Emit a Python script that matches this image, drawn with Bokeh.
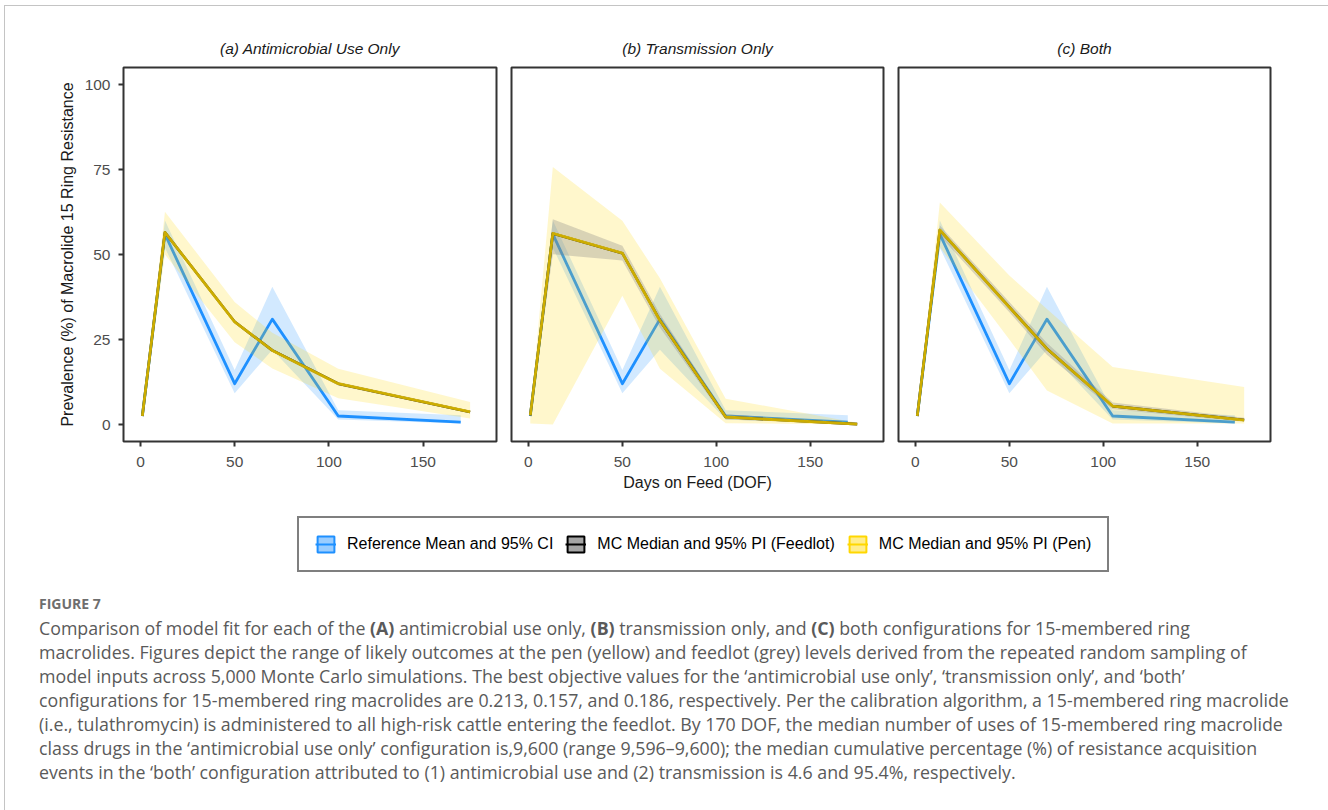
from bokeh.plotting import figure
from bokeh.models import (Range1d, FixedTicker, Legend, LegendItem, Div)
from bokeh.layouts import row, column
from bokeh.embed import file_html
from bokeh.resources import INLINE

# ---------------- data ----------------
DOF_REF = [1, 13, 50, 70, 105, 170]
REF_MEAN = [2.5, 56.0, 12.0, 31.0, 2.5, 0.7]
REF_LO = [2.0, 52.0, 9.2, 22.0, 1.5, 0.3]
REF_HI = [3.0, 60.0, 16.0, 40.5, 4.2, 2.7]

DOF_MC = [1, 13, 50, 70, 105, 175]

# (a) Antimicrobial use only
PEN_MED_A = [2.5, 56.5, 30.2, 21.8, 12.0, 3.7]
PEN_LO_A = [2.0, 50.0, 24.2, 16.5, 7.7, 1.8]
PEN_HI_A = [3.0, 62.6, 36.0, 27.0, 16.4, 6.6]
FL_MED_A = [2.5, 56.5, 30.2, 21.8, 12.0, 3.7]
FL_LO_A = [2.3, 56.0, 29.7, 21.3, 11.5, 3.3]
FL_HI_A = [2.7, 57.0, 30.7, 22.3, 12.5, 4.1]

# (b) Transmission only
PEN_MED_B = [2.7, 56.2, 50.4, 30.6, 2.2, 0.1]
PEN_LO_B = [0.3, 0.0, 37.9, 16.4, 0.4, 0.0]
PEN_HI_B = [3.0, 75.7, 59.9, 43.0, 7.6, 0.5]
FL_MED_B = [2.7, 56.2, 50.4, 30.6, 2.2, 0.1]
FL_LO_B = [2.2, 50.1, 48.2, 28.5, 1.5, 0.0]
FL_HI_B = [3.0, 60.4, 52.6, 32.5, 3.0, 0.5]

# (c) Both
PEN_MED_C = [2.5, 57.2, 34.5, 22.3, 5.4, 1.3]
PEN_LO_C = [2.0, 52.1, 25.0, 10.0, 0.3, 0.3]
PEN_HI_C = [3.0, 65.3, 43.8, 34.0, 16.9, 11.0]
FL_MED_C = [2.5, 57.2, 34.5, 22.3, 5.4, 1.3]
FL_LO_C = [2.2, 55.5, 33.0, 20.5, 4.5, 0.8]
FL_HI_C = [2.8, 58.5, 36.0, 24.0, 6.5, 2.0]

PANEL_TITLES = ["(a) Antimicrobial Use Only", "(b) Transmission Only", "(c) Both"]
Y_TICKS = [0, 25, 50, 75, 100]
X_TICKS = [0, 50, 100, 150]
Y_LABEL = "Prevalence (%) of Macrolide 15 Ring Resistance"
X_LABEL = "Days on Feed (DOF)"
LEGEND_LABELS = ["Reference Mean and 95% CI", "MC Median and 95% PI (Feedlot)",
                 "MC Median and 95% PI (Pen)"]

BLUE = "#1E90FF"
GOLD = "#FFD700"
FONT = "Liberation Sans"


def make_panel(title, pen, fl, width, mbl, mbr, show_y, show_xlabel):
    p = figure(width=width, height=495, x_range=Range1d(-9, 189), y_range=Range1d(-5, 105),
               output_backend="svg", toolbar_location=None,
               min_border_left=mbl, min_border_right=mbr, min_border_top=61, min_border_bottom=60,
               background_fill_color="white", border_fill_color="white")
    p.title.text = title
    p.title.align = "center"
    p.title.text_font = FONT
    p.title.text_font_style = "italic"
    p.title.text_font_size = "15.5px"
    p.title.text_color = "#1a1a1a"
    p.title.standoff = 22
    p.outline_line_color = "#333333"
    p.outline_line_width = 2
    p.xgrid.visible = False
    p.ygrid.visible = False

    for ax in [p.xaxis[0], p.yaxis[0]]:
        ax.axis_line_color = None
        ax.major_tick_line_color = "#333333"
        ax.major_tick_line_width = 2
        ax.major_tick_out = 5
        ax.major_tick_in = 0
        ax.minor_tick_line_color = None
        ax.major_label_text_font = FONT
        ax.major_label_text_font_size = "15.5px"
        ax.major_label_text_color = "#4D4D4D"
        ax.axis_label_text_font = FONT
        ax.axis_label_text_font_size = "16px"
        ax.axis_label_text_font_style = "normal"
        ax.axis_label_text_color = "#1a1a1a"
    p.xaxis.ticker = FixedTicker(ticks=X_TICKS)
    p.yaxis.ticker = FixedTicker(ticks=Y_TICKS)
    p.xaxis.major_label_standoff = 10
    p.yaxis.major_label_standoff = 8
    if show_xlabel:
        p.xaxis.axis_label = X_LABEL
        p.xaxis.axis_label_standoff = 4
    if show_y:
        p.yaxis.axis_label = Y_LABEL
        p.yaxis.axis_label_standoff = 6
    else:
        p.yaxis.visible = False

    pen_med, pen_lo, pen_hi = pen
    fl_med, fl_lo, fl_hi = fl
    p.varea(x=DOF_REF, y1=REF_LO, y2=REF_HI, fill_color=BLUE, fill_alpha=0.2)
    p.line(x=DOF_REF, y=REF_MEAN, line_color=BLUE, line_width=2.8, line_join="round")
    p.varea(x=DOF_MC, y1=pen_lo, y2=pen_hi, fill_color=GOLD, fill_alpha=0.2)
    p.varea(x=DOF_MC, y1=fl_lo, y2=fl_hi, fill_color="#808080", fill_alpha=0.3)
    p.line(x=DOF_MC, y=fl_med, line_color="black", line_width=2.6, line_join="round")
    p.line(x=DOF_MC, y=pen_med, line_color=GOLD, line_alpha=0.8, line_width=2.8, line_join="round")
    return p


pa = make_panel(PANEL_TITLES[0], (PEN_MED_A, PEN_LO_A, PEN_HI_A), (FL_MED_A, FL_LO_A, FL_HI_A),
                495, 118, 4, True, False)
pb = make_panel(PANEL_TITLES[1], (PEN_MED_B, PEN_LO_B, PEN_HI_B), (FL_MED_B, FL_LO_B, FL_HI_B),
                390, 11, 7, False, True)
pc = make_panel(PANEL_TITLES[2], (PEN_MED_C, PEN_LO_C, PEN_HI_C), (FL_MED_C, FL_LO_C, FL_HI_C),
                436, 8, 56, False, False)

# ---------------- legend ----------------
lf = figure(width=1321, height=88, output_backend="svg", toolbar_location=None,
            x_range=Range1d(0, 1), y_range=Range1d(0, 1), x_axis_type=None, y_axis_type=None,
            min_border=0, outline_line_color=None, background_fill_color="white",
            border_fill_color="white")
lf.xgrid.visible = False
lf.ygrid.visible = False
key_styles = [
    (BLUE, 0.45, BLUE),
    ("#7f7f7f", 0.7, "black"),
    (GOLD, 0.45, GOLD),
]
items = []
for lab, (fc, fa, lc) in zip(LEGEND_LABELS, key_styles):
    # keys only: glyphs placed outside the visible range of this legend-only canvas
    rq = lf.quad(left=[5], right=[6], top=[6], bottom=[5], fill_color=fc, fill_alpha=fa,
                 line_color=lc, line_width=2)
    rl = lf.line(x=[5, 6], y=[5, 5], line_color=lc, line_width=2)
    items.append(LegendItem(label=lab, renderers=[rq, rl]))
legend = Legend(items=items, orientation="horizontal", location=(292, 17),
                glyph_width=21, glyph_height=20, label_standoff=11, spacing=12, padding=16,
                border_line_color="black", border_line_width=2, background_fill_alpha=1,
                label_text_font=FONT, label_text_font_size="16px", label_text_color="black",
                label_height=20, margin=0)
lf.add_layout(legend)

# ---------------- caption ----------------
CAPTION_LINES = [
    "Comparison of model fit for each of the <b>(A)</b> antimicrobial use only, <b>(B)</b> transmission only, and <b>(C)</b> both configurations for 15-membered ring",
    "macrolides. Figures depict the range of likely outcomes at the pen (yellow) and feedlot (grey) levels derived from the repeated random sampling of",
    "model inputs across 5,000 Monte Carlo simulations. The best objective values for the \u2018antimicrobial use only\u2019, \u2018transmission only\u2019, and \u2018both\u2019",
    "configurations for 15-membered ring macrolides are 0.213, 0.157, and 0.186, respectively. Per the calibration algorithm, a 15-membered ring macrolide",
    "(i.e., tulathromycin) is administered to all high-risk cattle entering the feedlot. By 170 DOF, the median number of uses of 15-membered ring macrolide",
    "class drugs in the \u2018antimicrobial use only\u2019 configuration is,9,600 (range 9,596\u20139,600); the median cumulative percentage (%) of resistance acquisition",
    "events in the \u2018both\u2019 configuration attributed to (1) antimicrobial use and (2) transmission is 4.6 and 95.4%, respectively.",
]
cap_html = (
    '<div style="margin-top:-2px; padding:0 0 0 29px; font-family:\'Open Sans\', Lato, sans-serif; color:#5a5a5a; '
    'white-space:nowrap; line-height:24px;">'
    '<div style="font-size:14px; font-weight:bold; color:#6e6e6e;">FIGURE 7</div>'
    '<div style="font-size:17.8px;">' + "<br>".join(CAPTION_LINES) + '</div></div>'
)
cap = Div(text=cap_html, width=1321, height=216)

layout = column(row(pa, pb, pc), lf, cap,
                styles={"margin-left": "4px", "margin-top": "5px",
                        "border-top": "1px solid #c4c4c4", "border-left": "1px solid #c4c4c4",
                        "border-right": "1px solid #c4c4c4"})

open("out.html", "w").write(file_html(layout, INLINE))
